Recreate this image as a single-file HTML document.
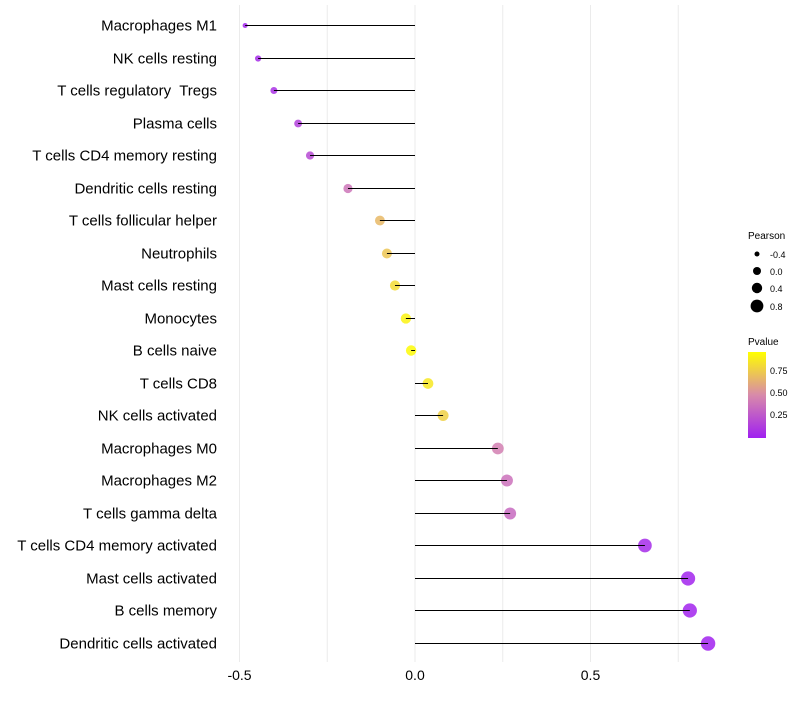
<!DOCTYPE html>
<html><head><meta charset="utf-8"><style>
body{margin:0;background:#fff;font-family:"Liberation Sans",sans-serif;}
text{white-space:pre;}
</style></head><body>
<svg id="chart" width="800" height="700" xmlns="http://www.w3.org/2000/svg" font-family="Liberation Sans, sans-serif">
<defs><linearGradient id="pg" x1="0" y1="1" x2="0" y2="0">
<stop offset="0" stop-color="#a020f0"/><stop offset="0.5" stop-color="#d88aaa"/><stop offset="1" stop-color="#ffff00"/></linearGradient></defs>
<g id="grid"></g><g id="points"></g><g id="marks"></g><g id="labels"></g>
<g>
<text x="748" y="239" font-size="10">Pearson</text>
<circle cx="757" cy="254" r="2.5"/><text x="770" y="258" font-size="9">-0.4</text>
<circle cx="757" cy="271" r="4"/><text x="770" y="275" font-size="9">0.0</text>
<circle cx="757" cy="288" r="5.2"/><text x="770" y="292" font-size="9">0.4</text>
<circle cx="757" cy="306" r="6.4"/><text x="770" y="310" font-size="9">0.8</text>
</g>
<g>
<text x="748" y="345" font-size="10">Pvalue</text>
<rect x="748" y="352" width="18" height="86" fill="url(#pg)"/>
<text x="770" y="374" font-size="9">0.75</text>
<text x="770" y="396" font-size="9">0.50</text>
<text x="770" y="418" font-size="9">0.25</text>
</g>
</svg>
<script>
const categories=["Macrophages M1","NK cells resting","T cells regulatory  Tregs","Plasma cells","T cells CD4 memory resting","Dendritic cells resting","T cells follicular helper","Neutrophils","Mast cells resting","Monocytes","B cells naive","T cells CD8","NK cells activated","Macrophages M0","Macrophages M2","T cells gamma delta","T cells CD4 memory activated","Mast cells activated","B cells memory","Dendritic cells activated"];
const pearson=[-0.484,-0.447,-0.402,-0.333,-0.299,-0.191,-0.100,-0.080,-0.057,-0.026,-0.011,0.037,0.080,0.236,0.262,0.271,0.655,0.778,0.783,0.835];
const pvalues=[0.02,0.05,0.08,0.15,0.2,0.4,0.7,0.75,0.85,0.95,0.98,0.9,0.8,0.45,0.38,0.35,0.05,0.02,0.02,0.01];
const ticks=[-0.5,0,0.5];
const tickLabels=["-0.5","0.0","0.5"];
const NS="http://www.w3.org/2000/svg";
const X=v=>415+v*351, Y=i=>25+i*32.5;
function col(p){const s=[[160,32,240],[216,138,170],[255,255,0]];let a,b,t;if(p<0.5){a=s[0];b=s[1];t=p/0.5}else{a=s[1];b=s[2];t=(p-0.5)/0.5}
return `rgb(${a.map((c,k)=>Math.round(c+(b[k]-c)*t)).join(',')})`;}
function mk(tag,at,parent){const e=document.createElementNS(NS,tag);for(const k in at)e.setAttribute(k,at[k]);document.getElementById(parent).appendChild(e);return e;}
[-0.5,-0.25,0,0.25,0.5,0.75].forEach(v=>{const l=mk('line',{x1:X(v),x2:X(v),y1:5,y2:662,stroke:'#ebebeb','stroke-width':1},'grid');

});
ticks.forEach((v,i)=>{const t=mk('text',{x:X(v),y:680,'font-size':14,'text-anchor':'middle'},'labels');t.textContent=tickLabels[i];

});
categories.forEach((c,i)=>{const y=Math.round(Y(i))+0.5,v=pearson[i];
const t=mk('text',{x:217,y:y+5,'font-size':15,'text-anchor':'end'},'labels');t.textContent=c;


const r=2.2+5*Math.sqrt(Math.max(0,(v+0.49)/1.32));
const p=mk('circle',{cx:X(v),cy:y,r:r,fill:col(pvalues[i]),'fill-opacity':0.85},'points');


const l=mk('line',{x1:X(0),x2:X(v),y1:y,y2:y,stroke:'#000','stroke-width':1},'marks');

});
</script>
</body></html>
